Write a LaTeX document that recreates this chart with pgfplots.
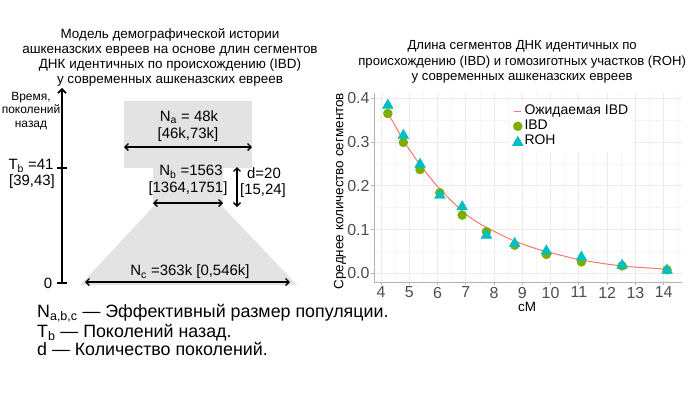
\documentclass[border=0pt]{standalone}
\usepackage{fontspec}
\setmainfont{Liberation Sans}
\usepackage{pgfplots}
\pgfplotsset{compat=1.18}
\usetikzlibrary{arrows.meta}
\definecolor{diaggray}{HTML}{E3E3E3}
\definecolor{ggred}{HTML}{F8766D}
\definecolor{gggreen}{HTML}{7CAE00}
\definecolor{ggcyan}{HTML}{00BFC4}
\definecolor{gridmaj}{HTML}{EBEBEB}
\definecolor{gridmin}{HTML}{F5F5F5}
\definecolor{axgray}{HTML}{B3B3B3}
\definecolor{ticklab}{HTML}{4D4D4D}
\newcommand{\fs}[1]{\fontsize{#1}{#1}\selectfont}
\tikzset{
  dbl/.style={line width=1.3bp, arrows={Straight Barb[length=3.5bp,width=7bp]-Straight Barb[length=3.5bp,width=7bp]}},
  sgl/.style={line width=1.6bp, arrows={-Straight Barb[length=4bp,width=8bp]}}
}
\begin{document}
\begin{tikzpicture}
\path[use as bounding box] (0,0) rectangle (700bp,394bp);
% ---------- left schematic (pixel coordinates, y downwards) ----------
\begin{axis}[at={(0,0)}, anchor=south west, scale only axis,
  width=700bp, height=394bp, xmin=0, xmax=700, ymin=0, ymax=394,
  y dir=reverse, hide axis, clip=false]
\addplot[fill=diaggray, draw=none] coordinates {(124,101) (252,101) (252,168) (124,168)} -- cycle;
\addplot[fill=diaggray, draw=none] coordinates {(153,168) (223,168) (223,207) (297,285) (80,285) (153,207)} -- cycle;
% time axis
\addplot[sgl] coordinates {(62,284) (62,88)};
\addplot[line width=1.6bp] coordinates {(57,168) (67,168)};
\addplot[line width=1.6bp] coordinates {(57,283) (67,283)};
% double arrows
\addplot[dbl] coordinates {(124,147) (252,147)};
\addplot[dbl] coordinates {(153,203) (223,203)};
\addplot[dbl] coordinates {(237,167) (237,207)};
\addplot[dbl] coordinates {(85,282) (290,282)};
% texts
\node[align=center, font=\fontsize{13.5}{15}\selectfont] at (axis cs:170,57)
  {Модель демографической истории\\ашкеназских евреев на основе длин сегментов\\ДНК идентичных по происхождению (IBD)\\у современных ашкеназских евреев};
\node[align=center, font=\fontsize{12}{13.8}\selectfont] at (axis cs:31,111) {Время,\\поколений\\назад};
\node[font=\fs{15}] at (axis cs:31,166) {T\textsubscript{b} =41};
\node[font=\fs{15}] at (axis cs:32,181.5) {[39,43]};
\node[font=\fs{15}] at (axis cs:48,283) {0};
\node[font=\fs{15}] at (axis cs:189,117) {N\textsubscript{a} = 48k};
\node[font=\fs{15}] at (axis cs:188,135) {[46k,73k]};
\node[font=\fs{15}] at (axis cs:191,172) {N\textsubscript{b} =1563};
\node[font=\fs{15}] at (axis cs:188,189) {[1364,1751]};
\node[font=\fs{15}] at (axis cs:264,173) {d=20};
\node[font=\fs{15}] at (axis cs:263,191) {[15,24]};
\node[font=\fs{15}] at (axis cs:190,272) {N\textsubscript{c} =363k [0,546k]};
\node[font=\fs{17.9}, anchor=base west, inner xsep=0pt] at (axis cs:37,317) {N\textsubscript{a,b,c} — Эффективный размер популяции.};
\node[font=\fs{17.9}, anchor=base west, inner xsep=0pt] at (axis cs:37,337) {T\textsubscript{b} — Поколений назад.};
\node[font=\fs{17.9}, anchor=base west, inner xsep=0pt] at (axis cs:37,355.5) {d — Количество поколений.};
\end{axis}
% ---------- right chart ----------
\begin{axis}[at={(374bp,112bp)}, anchor=south west, scale only axis,
  width=308bp, height=189bp,
  xmin=3.75, xmax=14.65, ymin=-0.0199, ymax=0.412,
  axis x line*=bottom, axis y line*=left,
  axis line style={axgray, line width=0.8bp, -},
  xtick={4,5,6,7,8,9,10,11,12,13,14},
  ytick={0,0.1,0.2,0.3,0.4},
  minor xtick={4.5,5.5,6.5,7.5,8.5,9.5,10.5,11.5,12.5,13.5,14.5},
  minor ytick={0.05,0.15,0.25,0.35},
  grid=both,
  major grid style={gridmaj, line width=0.9bp},
  minor grid style={gridmin, line width=0.5bp},
  tick align=outside, major tick length=3bp, minor tick length=0pt,
  tick style={axgray, line width=0.8bp},
  ticklabel style={font=\fs{16}, text=ticklab},
  /pgf/number format/assume math mode=true,
  yticklabel style={xshift=2bp, /pgf/number format/.cd, fixed, fixed zerofill, precision=1},
  xticklabel style={yshift=1.5bp},
  title={Длина сегментов ДНК идентичных по\\происхождению (IBD) и гомозиготных участков (ROH)\\у современных ашкеназских евреев},
  title style={align=center, font=\fontsize{13.2}{15.8}\selectfont, at={(axis description cs:0.481,1.169)}, anchor=center, yshift=-7bp},
  xlabel={cM}, xlabel style={font=\fs{13.5}, at={(axis description cs:0.497,-0.132)}, anchor=center},
  ylabel={Среднее количество сегментов}, ylabel style={font=\fs{13.5}, at={(axis description cs:-0.110,0.481)}, anchor=center},
  legend style={at={(axis description cs:0.438,0.960)}, anchor=north west, draw=none, fill=white,
    font=\fs{14}, inner sep=3bp, row sep=0bp,
    nodes={inner xsep=1bp, inner ysep=1bp, text height=10bp, text depth=3bp}},
  legend cell align=left,
]
\addlegendimage{legend image code/.code={\path[draw=none,fill=none] (0bp,-5bp) rectangle (10bp,5bp); \draw[ggred, line width=1.2bp] (1.5bp,0bp) -- (8.5bp,0bp);}}
\addlegendentry{Ожидаемая IBD}
\addlegendimage{legend image code/.code={\path[draw=none,fill=none] (0bp,-5bp) rectangle (10bp,5bp); \fill[gggreen] (5bp,0bp) circle (4.5bp);}}
\addlegendentry{IBD}
\addlegendimage{legend image code/.code={\path[draw=none,fill=none] (0bp,-5bp) rectangle (10bp,5bp); \fill[ggcyan] (-0.5bp,-4.5bp) -- (10.5bp,-4.5bp) -- (5bp,5bp) -- cycle;}}
\addlegendentry{ROH}
\addplot[forget plot, only marks, mark=*, mark size=4.5bp, color=gggreen] coordinates {
(4.24,0.365) (4.79,0.299) (5.38,0.237) (6.08,0.184) (6.87,0.133) (7.73,0.095)
(8.73,0.064) (9.85,0.043) (11.09,0.026) (12.53,0.017) (14.12,0.008)};
\addplot[forget plot, only marks, mark=triangle*, mark size=6.2bp, color=ggcyan] coordinates {
(4.24,0.384) (4.79,0.315) (5.38,0.249) (6.08,0.178) (6.87,0.152) (7.73,0.087)
(8.73,0.068) (9.85,0.051) (11.09,0.037) (12.53,0.018) (14.12,0.007)};
\addplot[forget plot, ggred, line width=1bp, smooth] coordinates {
(4.24,0.366) (4.5,0.337) (4.8,0.302) (5.0,0.283) (5.4,0.246) (6.0,0.198) (6.5,0.165)
(7.0,0.135) (7.5,0.113) (8.0,0.096) (8.5,0.080) (9.0,0.067) (9.5,0.056) (10.0,0.047)
(10.5,0.039) (11.0,0.031) (11.5,0.026) (12.0,0.021) (12.5,0.017) (13.0,0.014)
(13.5,0.012) (14.12,0.009)};
\end{axis}
\end{tikzpicture}
\end{document}
